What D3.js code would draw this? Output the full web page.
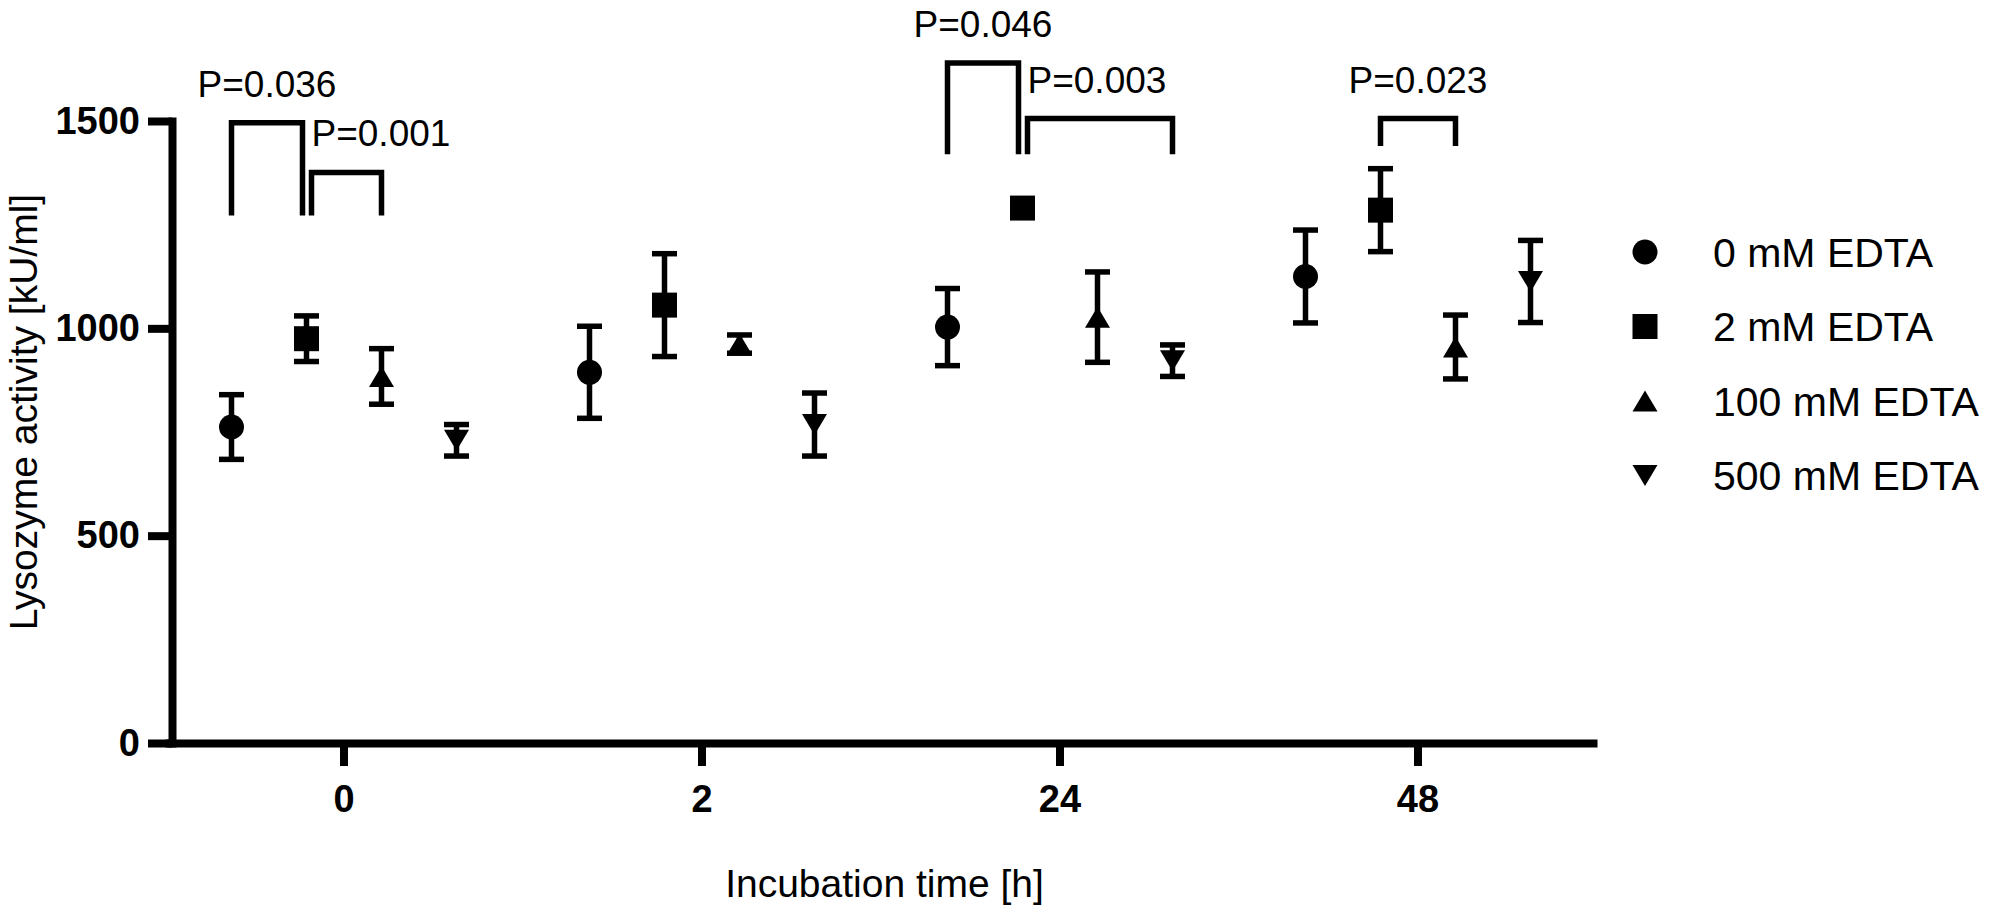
<!DOCTYPE html>
<html>
<head>
<meta charset="utf-8">
<script src="https://cdn.jsdelivr.net/npm/d3@7"></script>
<style>
    body { margin: 0; background: #fff; }
    svg { display: block; }
    text { font-family: 'Liberation Sans', Arial, sans-serif; fill: #000; }
</style>
</head>
<body>
<div id="chart"></div>
<script>
const groups = ['0', '2', '24', '48'];
const seriesNames = ['0 mM EDTA', '2 mM EDTA', '100 mM EDTA', '500 mM EDTA'];

// mean and error per series, one value per incubation time
const means0mM = [762, 894, 1003, 1125];
const means2mM = [975, 1056, 1290, 1285];
const means100mM = [884, 962, 1027, 955];
const means500mM = [730, 768, 922, 1113];
const err0mM = [78, 111, 93, 112];
const err2mM = [55, 124, 6, 100];
const err100mM = [67, 22, 109, 77];
const err500mM = [38, 76, 38, 99];

const yTicks = [0, 500, 1000, 1500];

// significance brackets
const pLabels = ['P=0.036', 'P=0.001', 'P=0.046', 'P=0.003', 'P=0.023'];
const pGroups = ['0', '0', '24', '24', '48'];
const pFrom = [0, 1, 0, 1, 1];
const pTo = [1, 2, 1, 3, 2];
const pTop = [1496, 1376, 1640, 1506, 1506];
const pBottom = [1272, 1272, 1420, 1420, 1440];

const means = [means0mM, means2mM, means100mM, means500mM];
const errs = [err0mM, err2mM, err100mM, err500mM];

const width = 1998;
const height = 908;
const axisX = 172;

const svg = d3.select('#chart').append('svg')
    .attr('width', width)
    .attr('height', height);

const x = d3.scaleBand().domain(groups).range([165, 1597]);
const xInner = d3.scaleBand().domain(d3.range(seriesNames.length)).range([-150, 150]);
const y = d3.scaleLinear().domain([0, 1500]).range([743, 121]);

function cx(group, s) {
    return x(group) + x.bandwidth() / 2 + xInner(s) + xInner.bandwidth() / 2;
}

// triangles centred on their bounding box, like Prism draws them
const triUp = {
    draw(context, size) {
        const w = Math.sqrt(size), h = w * 0.84;
        context.moveTo(0, -h / 2);
        context.lineTo(w / 2, h / 2);
        context.lineTo(-w / 2, h / 2);
        context.closePath();
    },
};
const triDown = {
    draw(context, size) {
        const w = Math.sqrt(size), h = w * 0.84;
        context.moveTo(0, h / 2);
        context.lineTo(w / 2, -h / 2);
        context.lineTo(-w / 2, -h / 2);
        context.closePath();
    },
};
const shapes = [d3.symbolCircle, d3.symbolSquare, triUp, triDown];
const shapeSizes = [Math.PI * 12.5 * 12.5, 25 * 25, 25 * 25, 25 * 25];

// axes
const xAxis = svg.append('g')
    .attr('transform', `translate(0,${y(0)})`)
    .call(d3.axisBottom(x).tickSize(23).tickPadding(19).tickSizeOuter(0));
const yAxis = svg.append('g')
    .attr('transform', `translate(${axisX},0)`)
    .call(d3.axisLeft(y).tickValues(yTicks).tickFormat(d3.format('d'))
        .tickSize(24).tickPadding(8).tickSizeOuter(0));

[xAxis, yAxis].forEach((g) => {
    g.selectAll('.domain').attr('stroke', '#000').attr('stroke-width', 8);
    g.selectAll('.tick line').attr('stroke', '#000').attr('stroke-width', 8);
    g.selectAll('.tick text')
        .attr('fill', '#000')
        .style('font-family', "'Liberation Sans', Arial, sans-serif")
        .style('font-size', '38px')
        .style('font-weight', 'bold');
});
yAxis.select('.domain').attr('stroke-linecap', 'square');

svg.append('text')
    .attr('transform', 'translate(37,412) rotate(-90)')
    .attr('text-anchor', 'middle')
    .style('font-size', '39px')
    .text('Lysozyme activity [kU/ml]');

svg.append('text')
    .attr('x', (axisX + 1597) / 2)
    .attr('y', 897)
    .attr('text-anchor', 'middle')
    .style('font-size', '39px')
    .text('Incubation time [h]');

// points with error bars
const points = [];
seriesNames.forEach((name, s) => {
    groups.forEach((g, i) => {
        points.push({ s, group: g, mean: means[s][i], err: errs[s][i] });
    });
});

const pts = svg.append('g').selectAll('g')
    .data(points)
    .join('g')
    .attr('transform', (d) => `translate(${cx(d.group, d.s)},0)`);

pts.append('line')
    .attr('y1', (d) => y(d.mean + d.err))
    .attr('y2', (d) => y(d.mean - d.err))
    .attr('stroke', '#000')
    .attr('stroke-width', 5.5);
pts.selectAll('.cap')
    .data((d) => [d.mean + d.err, d.mean - d.err])
    .join('line')
    .attr('class', 'cap')
    .attr('x1', -12.5)
    .attr('x2', 12.5)
    .attr('y1', (v) => y(v))
    .attr('y2', (v) => y(v))
    .attr('stroke', '#000')
    .attr('stroke-width', 5.5);
pts.append('path')
    .attr('transform', (d) => `translate(0,${y(d.mean)})`)
    .attr('d', (d) => d3.symbol().type(shapes[d.s]).size(shapeSizes[d.s])())
    .attr('fill', '#000');

// brackets
const brackets = pLabels.map((label, i) => {
    const sharedLeft = pLabels.some((_, j) => j !== i && pGroups[j] === pGroups[i] && pTo[j] === pFrom[i]);
    const sharedRight = pLabels.some((_, j) => j !== i && pGroups[j] === pGroups[i] && pFrom[j] === pTo[i]);
    return {
        label,
        x1: cx(pGroups[i], pFrom[i]) + (sharedLeft ? 5 : 0),
        x2: cx(pGroups[i], pTo[i]) - (sharedRight ? 4 : 0),
        top: pTop[i],
        bottom: pBottom[i],
        alignLeft: sharedLeft,
    };
});

const br = svg.append('g').selectAll('g')
    .data(brackets)
    .join('g');

br.append('path')
    .attr('d', (d) => `M${d.x1},${y(d.bottom)}V${y(d.top)}H${d.x2}V${y(d.bottom)}`)
    .attr('fill', 'none')
    .attr('stroke', '#000')
    .attr('stroke-width', 5.5);

br.append('text')
    .attr('x', (d) => (d.alignLeft ? d.x1 : (d.x1 + d.x2) / 2))
    .attr('y', (d) => y(d.top) - 26)
    .attr('text-anchor', (d) => (d.alignLeft ? 'start' : 'middle'))
    .style('font-size', '37px')
    .text((d) => d.label);

// legend
const legend = svg.append('g').selectAll('g')
    .data(seriesNames)
    .join('g')
    .attr('transform', (d, i) => `translate(1645,${252 + i * 74.5})`);

legend.append('path')
    .attr('d', (d, i) => d3.symbol().type(shapes[i]).size(shapeSizes[i])())
    .attr('fill', '#000');

legend.append('text')
    .attr('x', 68)
    .attr('dy', '0.36em')
    .style('font-size', '41px')
    .text((d) => d);
</script>
</body>
</html>
